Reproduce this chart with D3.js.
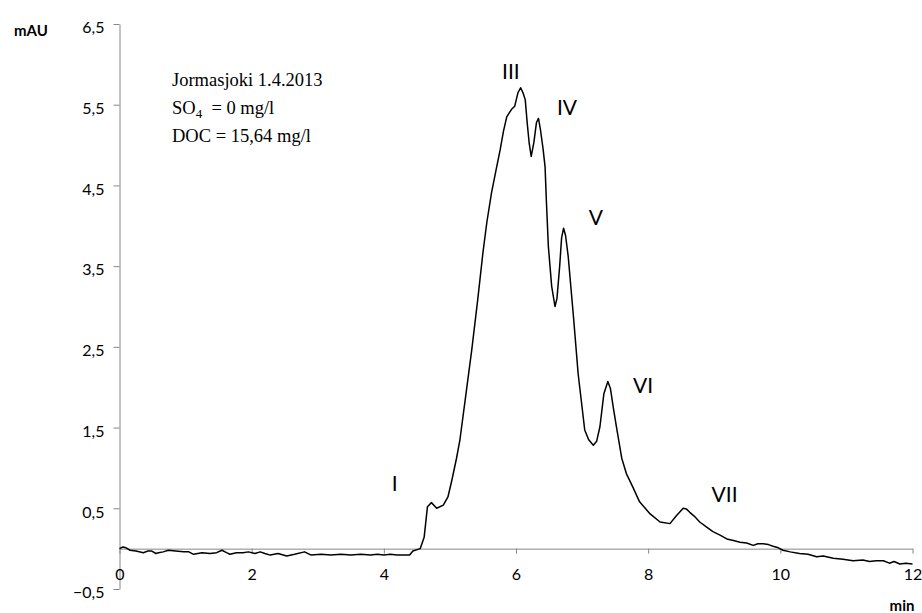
<!DOCTYPE html>
<html>
<head>
<meta charset="utf-8">
<script src="https://cdn.jsdelivr.net/npm/d3@7"></script>
<style>
  body { margin: 0; background: #fff; }
  svg { display: block; }
</style>
</head>
<body>
<div id="chart"></div>
<script>
// chromatogram, time in min and absorbance in mAU
const time = [0.00, 0.05, 0.10, 0.16, 0.25, 0.36, 0.43, 0.49, 0.55, 0.59, 0.66, 0.74, 0.85, 0.97, 1.05, 1.12,
  1.25, 1.37, 1.47, 1.55, 1.62, 1.67, 1.77, 1.87, 1.95, 2.05, 2.13, 2.20, 2.28, 2.40, 2.53, 2.65, 2.80,
  2.90, 3.05, 3.20, 3.35, 3.50, 3.65, 3.80, 3.90, 4.00, 4.10, 4.20, 4.30, 4.39, 4.44, 4.55, 4.61, 4.66,
  4.72, 4.80, 4.90, 4.97, 5.03, 5.10, 5.15, 5.25, 5.33, 5.42, 5.50, 5.56, 5.63, 5.70, 5.76, 5.81, 5.86,
  5.93, 5.98, 6.03, 6.07, 6.11, 6.14, 6.17, 6.20, 6.23, 6.27, 6.31, 6.34, 6.37, 6.41, 6.44, 6.46, 6.49,
  6.54, 6.59, 6.62, 6.66, 6.69, 6.72, 6.75, 6.79, 6.87, 6.94, 7.04, 7.10, 7.17, 7.22, 7.27, 7.33, 7.39,
  7.43, 7.47, 7.52, 7.60, 7.67, 7.77, 7.87, 8.03, 8.18, 8.33, 8.43, 8.53, 8.58, 8.63, 8.70, 8.78, 8.88,
  8.98, 9.08, 9.19, 9.29, 9.39, 9.49, 9.59, 9.66, 9.74, 9.82, 9.89, 9.97, 10.04, 10.15, 10.29, 10.42,
  10.55, 10.65, 10.80, 10.95, 11.10, 11.25, 11.35, 11.45, 11.56, 11.65, 11.72, 11.81, 11.90, 12.00];
const mAU = [0.00, 0.02, 0.01, -0.02, -0.03, -0.05, -0.03, -0.03, -0.06, -0.05, -0.04, -0.02, -0.03, -0.04, -0.04, -0.07,
  -0.05, -0.06, -0.05, -0.02, -0.05, -0.07, -0.05, -0.05, -0.04, -0.06, -0.04, -0.06, -0.08, -0.06, -0.09, -0.07, -0.04,
  -0.08, -0.07, -0.08, -0.07, -0.08, -0.07, -0.08, -0.07, -0.08, -0.07, -0.08, -0.08, -0.08, -0.03, 0.00, 0.14, 0.52,
  0.57, 0.50, 0.54, 0.64, 0.85, 1.12, 1.34, 1.96, 2.46, 3.08, 3.67, 4.05, 4.41, 4.70, 4.94, 5.17, 5.35,
  5.44, 5.48, 5.65, 5.71, 5.64, 5.56, 5.27, 5.02, 4.86, 5.03, 5.28, 5.33, 5.19, 4.95, 4.73, 4.30, 3.74,
  3.25, 3.00, 3.10, 3.49, 3.85, 3.97, 3.88, 3.62, 2.87, 2.17, 1.47, 1.35, 1.28, 1.33, 1.51, 1.92, 2.07,
  1.98, 1.76, 1.51, 1.12, 0.93, 0.76, 0.58, 0.43, 0.33, 0.31, 0.41, 0.50, 0.49, 0.45, 0.40, 0.33, 0.27,
  0.21, 0.17, 0.12, 0.10, 0.08, 0.07, 0.04, 0.06, 0.06, 0.05, 0.03, 0.01, -0.02, -0.04, -0.06, -0.07,
  -0.10, -0.09, -0.12, -0.13, -0.15, -0.14, -0.16, -0.15, -0.15, -0.18, -0.16, -0.19, -0.18, -0.19];

const xTicks = [0, 2, 4, 6, 8, 10, 12];
const yTicks = [-0.5, 0.5, 1.5, 2.5, 3.5, 4.5, 5.5, 6.5];

// peak names and where their labels sit (min, mAU)
const peakNames = ["I", "III", "IV", "V", "VI", "VII"];
const peakLabelT = [4.12, 5.79, 6.62, 7.10, 7.77, 8.96];
const peakLabelV = [0.71, 5.82, 5.37, 4.01, 1.93, 0.58];

const infoLines = ["Jormasjoki 1.4.2013", "SO4", "DOC = 15,64 mg/l"];

const width = 922, height = 613;
const axisColor = "#868686";
const labelFont = "Lato, 'Open Sans', sans-serif";

const svg = d3.select("#chart").append("svg")
  .attr("width", width)
  .attr("height", height);

const x = d3.scaleLinear().domain([0, 12]).range([119.5, 912.5]);
const y = d3.scaleLinear().domain([-0.5, 6.5]).range([589, 24]);

const comma = v => d3.format(".1f")(v).replace(".", ",");

// y axis
const yAxis = svg.append("g")
  .attr("transform", `translate(${x(0)},0)`)
  .call(d3.axisLeft(y).tickValues(yTicks).tickSize(6).tickSizeOuter(0).tickFormat(comma));
yAxis.select(".domain").attr("stroke", axisColor);
yAxis.selectAll(".tick line").attr("stroke", axisColor);
yAxis.selectAll(".tick text")
  .attr("x", -15).attr("dy", "0.55em")
  .style("font-family", labelFont).style("font-size", "16px").attr("fill", "#000");

// x axis sits on zero
const xAxis = svg.append("g")
  .attr("transform", `translate(0,${y(0)})`)
  .call(d3.axisBottom(x).tickValues(xTicks).tickSize(5).tickSizeOuter(0).tickFormat(d3.format("d")));
xAxis.select(".domain").attr("stroke", axisColor);
xAxis.selectAll(".tick line").attr("stroke", axisColor);
xAxis.selectAll(".tick text")
  .attr("y", 20).attr("dy", "0.71em")
  .style("font-family", labelFont).style("font-size", "16px").attr("fill", "#000");

// axis titles
svg.append("text").attr("x", 31).attr("y", 36).attr("text-anchor", "middle")
  .style("font-family", labelFont).style("font-size", "15px").style("font-weight", "bold")
  .text("mAU");
svg.append("text").attr("x", 902).attr("y", 611).attr("text-anchor", "middle")
  .style("font-family", labelFont).style("font-size", "15px").style("font-weight", "bold")
  .text("min");

// trace
const data = time.map((t, i) => ({ t: t, v: mAU[i] }));
const line = d3.line().x(d => x(d.t)).y(d => y(d.v));
svg.append("path")
  .datum(data)
  .attr("d", line)
  .attr("fill", "none")
  .attr("stroke", "#000")
  .attr("stroke-width", 1.5)
  .attr("stroke-linejoin", "round");

// peak labels
svg.selectAll(".peak")
  .data(peakNames).enter()
  .append("text")
  .attr("class", "peak")
  .attr("x", (d, i) => x(peakLabelT[i]))
  .attr("y", (d, i) => y(peakLabelV[i]))
  .style("font-family", labelFont).style("font-size", "21px")
  .text(d => d);

// sample info
const info = svg.append("g")
  .style("font-family", "'Liberation Serif', 'Times New Roman', serif")
  .style("font-size", "18.5px");
info.append("text").attr("x", 172).attr("y", 86).text(infoLines[0]);
const so4 = info.append("text").attr("x", 172).attr("y", 114);
so4.append("tspan").text("SO");
so4.append("tspan").attr("dy", 4).style("font-size", "13px").text("4");
so4.append("tspan").attr("dy", -4).text("\u00a0 = 0 mg/l");
info.append("text").attr("x", 172).attr("y", 142).text(infoLines[2]);
</script>
</body>
</html>
